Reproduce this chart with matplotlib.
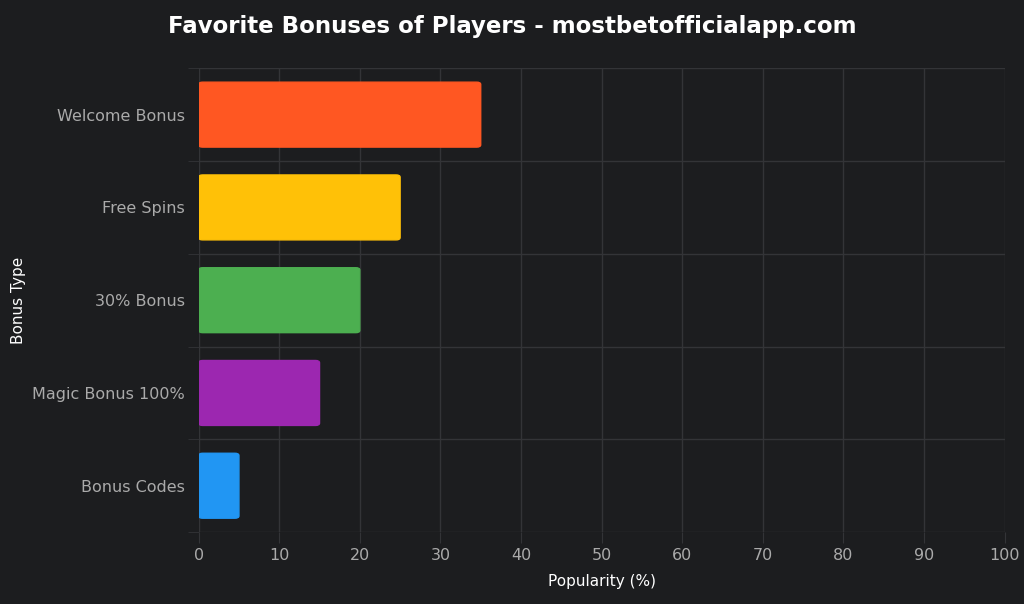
import matplotlib.pyplot as plt
from matplotlib.patches import FancyBboxPatch

categories = ["Welcome Bonus", "Free Spins", "30% Bonus", "Magic Bonus 100%", "Bonus Codes"]
values = [35, 25, 20, 15, 5]
colors = ["#FF5722", "#FFC107", "#4CAF50", "#9C27B0", "#2196F3"]
xticks = [0, 10, 20, 30, 40, 50, 60, 70, 80, 90, 100]

bg = "#1c1d1f"
fig = plt.figure(figsize=(10.24, 6.04), dpi=100, facecolor=bg)
ax = fig.add_axes([0.194, 0.119, 0.787, 0.768], facecolor=bg)
n = len(categories)
ax.set_xlim(0, 100)
ax.set_ylim(n - 0.5, -0.5)
h = 0.7
for i, (v, c) in enumerate(zip(values, colors)):
    ax.add_patch(FancyBboxPatch((0, i - h / 2), v, h,
                                boxstyle="round,pad=0,rounding_size=0.5",
                                mutation_aspect=0.05,
                                facecolor=c, edgecolor=c, zorder=3))
ax.set_yticks(range(n))
ax.set_yticklabels(categories)
ax.set_yticks([i + 0.5 for i in range(-1, n)], minor=True)
ax.set_xticks(xticks)
ax.grid(True, axis="x", color="#333437", lw=1, zorder=0)
ax.grid(True, axis="y", which="minor", color="#333437", lw=1, zorder=0)
ax.tick_params(axis="y", which="major", length=0, colors="#aaaaaa", labelsize=11.5, pad=10)
ax.tick_params(axis="y", which="minor", length=8, color="#333437")
ax.tick_params(axis="x", length=8, color="#333437", colors="#aaaaaa", labelsize=11.5)
for s in ax.spines.values():
    s.set_visible(False)
ax.set_xlabel("Popularity (%)", color="white", fontsize=11, labelpad=8)
ax.set_ylabel("Bonus Type", color="white", fontsize=11, labelpad=4)
fig.suptitle("Favorite Bonuses of Players - mostbetofficialapp.com", color="white",
             fontsize=16.5, fontweight="bold", y=0.975)
fig.savefig("out.png", dpi=100, facecolor=bg)
